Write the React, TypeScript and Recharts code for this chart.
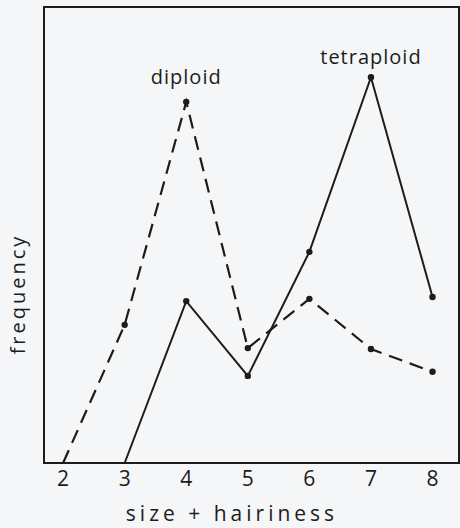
import React from "react";
import {
  LineChart,
  Line,
  XAxis,
  YAxis,
  ReferenceArea,
  ReferenceDot,
  Label,
} from "recharts";

// size + hairiness classes on the x axis
const sizes = [2, 3, 4, 5, 6, 7, 8];
// frequency (0..10, no y ticks shown)
const diploid = [0, 3.03, 7.92, 2.52, 3.6, 2.5, 2.0];
const tetraploid = [null, 0, 3.55, 1.91, 4.63, 8.46, 3.64];
const xTicks = [2, 3, 4, 5, 6, 7, 8];

const X_DOMAIN: [number, number] = [1.69, 8.43];
const Y_DOMAIN: [number, number] = [0, 10];

const INK = "#1c1c1c";
const FONT = "'Open Sans', 'DejaVu Sans', sans-serif";

const data = sizes.map((s, i) => ({
  size: s,
  diploid: diploid[i],
  tetraploid: tetraploid[i],
}));

// hand drawn chart puts no dot where the line meets the axis
const renderDot = (props: any) => {
  const { cx, cy, value, index } = props;
  if (value === 0 || value == null) return <g key={index} />;
  return <circle key={index} cx={cx} cy={cy} r={3.2} fill={INK} />;
};

const YTitle = () => (
  <text
    x={17}
    y={294}
    transform="rotate(-90, 17, 294)"
    textAnchor="middle"
    dominantBaseline="central"
    fontFamily={FONT}
    fontSize={20}
    letterSpacing={3}
    fill={INK}
  >
    frequency
  </text>
);

const XTitle = () => (
  <text
    x={232}
    y={521}
    textAnchor="middle"
    fontFamily={FONT}
    fontSize={21}
    letterSpacing={4}
    fill={INK}
  >
    size + hairiness
  </text>
);

export default function App() {
  return (
    <div style={{ position: "absolute", top: 0, left: 0, width: 460, height: 528, background: "#f4f6f8" }}>
      <LineChart
        width={460}
        height={528}
        data={data}
        margin={{ top: 7, right: 1, bottom: 0, left: 0 }}
      >
        <XAxis
          dataKey="size"
          type="number"
          domain={X_DOMAIN}
          ticks={xTicks}
          allowDataOverflow
          height={65}
          tickLine={false}
          axisLine={{ stroke: INK, strokeWidth: 2 }}
          tick={{ fill: INK, fontSize: 21, fontFamily: FONT }}
        >
          <Label content={<XTitle />} />
        </XAxis>
        <YAxis
          type="number"
          domain={Y_DOMAIN}
          width={44}
          tick={false}
          tickLine={false}
          axisLine={{ stroke: INK, strokeWidth: 2 }}
        >
          <Label content={<YTitle />} />
        </YAxis>
        <ReferenceArea
          x1={X_DOMAIN[0]}
          x2={X_DOMAIN[1]}
          y1={Y_DOMAIN[0]}
          y2={Y_DOMAIN[1]}
          fill="none"
          stroke={INK}
          strokeWidth={2}
        />
        <Line
          dataKey="diploid"
          type="linear"
          stroke={INK}
          strokeWidth={2.2}
          strokeDasharray="14 8"
          dot={renderDot}
          activeDot={false}
          isAnimationActive={false}
        />
        <Line
          dataKey="tetraploid"
          type="linear"
          stroke={INK}
          strokeWidth={2}
          dot={renderDot}
          activeDot={false}
          connectNulls={false}
          isAnimationActive={false}
        />
        <ReferenceDot x={4} y={7.92} r={0} stroke="none">
          <Label
            value="diploid"
            position="top"
            offset={18}
            fill={INK}
            fontSize={20}
            fontFamily={FONT}
            letterSpacing={1}
          />
        </ReferenceDot>
        <ReferenceDot x={7} y={8.46} r={0} stroke="none">
          <Label
            value="tetraploid"
            position="top"
            offset={13}
            fill={INK}
            fontSize={20}
            fontFamily={FONT}
            letterSpacing={1}
          />
        </ReferenceDot>
      </LineChart>
    </div>
  );
}
